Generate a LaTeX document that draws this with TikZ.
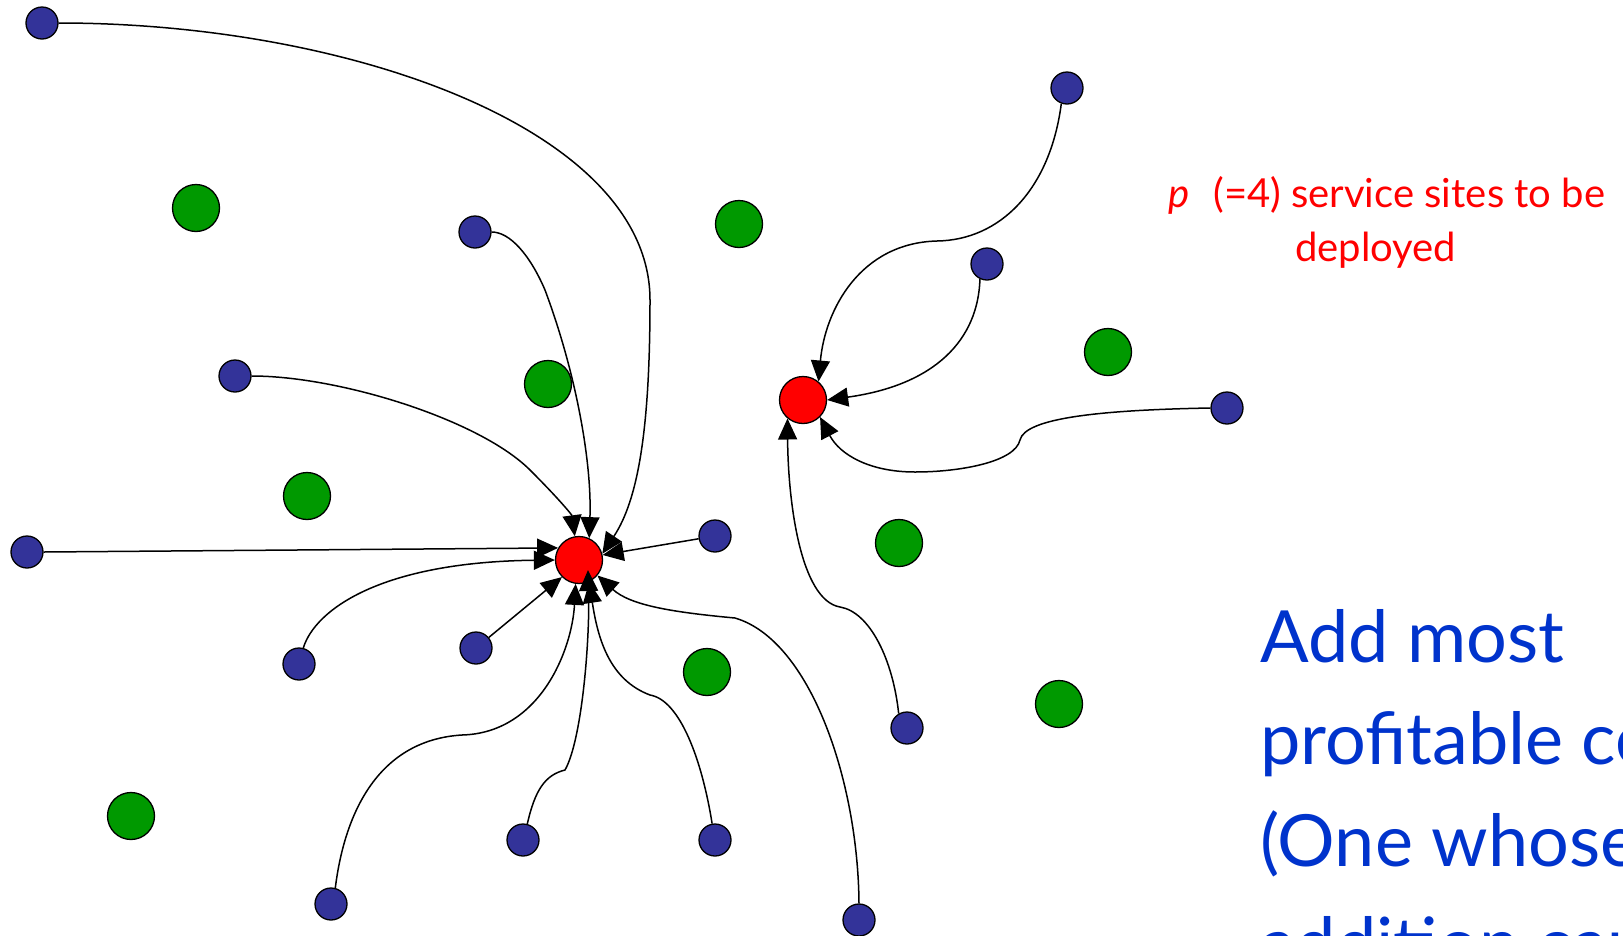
\documentclass[tikz,border=0pt]{standalone}
\usepackage{fontspec}
\setmainfont{Lato}
\usetikzlibrary{arrows.meta,calc}
\definecolor{cblue}{RGB}{51,51,153}
\definecolor{cgreen}{RGB}{0,153,0}
\definecolor{cred}{RGB}{255,0,0}
\definecolor{tblue}{RGB}{0,51,204}
\begin{document}
\begin{tikzpicture}[x=1pt,y=-1pt,
  client/.style={circle,draw=black,line width=1.3pt,fill=cblue,minimum size=32pt,inner sep=0pt},
  cand/.style={circle,draw=black,line width=1.3pt,fill=cgreen,minimum size=47pt,inner sep=0pt},
  site/.style={circle,draw=black,line width=1.3pt,fill=cred,minimum size=47pt,inner sep=0pt},
  arr/.style={draw=black,line width=1.5pt,-{Triangle[length=21pt,width=19pt]}},
  redtxt/.style={text=cred,font=\fontsize{40}{46}\selectfont,anchor=base west,inner sep=0pt},
  bluetxt/.style={text=tblue,font=\fontsize{72}{80}\selectfont,anchor=base west,inner sep=0pt}]
\useasboundingbox (0,0) rectangle (1623,935);
\clip (0,0) rectangle (1623,935);
% candidate sites (green)
\node[cand] (g1) at (196,208) {};
\node[cand] (g2) at (739,224) {};
\node[cand] (g3) at (548,384) {};
\node[cand] (g4) at (1108,352) {};
\node[cand] (g5) at (307,496) {};
\node[cand] (g6) at (899,543) {};
\node[cand] (g7) at (707,672) {};
\node[cand] (g8) at (1059,704) {};
\node[cand] (g9) at (131,816) {};
% chosen sites (red)
\node[site] (r1) at (579,560) {};
\node[site] (r2) at (803,400) {};
% clients (blue)
\node[client] (b1) at (42,23) {};
\node[client] (b2) at (1067,88) {};
\node[client] (b3) at (475,232) {};
\node[client] (b4) at (987,264) {};
\node[client] (b5) at (235,376) {};
\node[client] (b6) at (1227,408) {};
\node[client] (b7) at (27,552) {};
\node[client] (b8) at (715,536) {};
\node[client] (b9) at (299,664) {};
\node[client] (b10) at (476,648) {};
\node[client] (b11) at (907,728) {};
\node[client] (b12) at (523,840) {};
\node[client] (b13) at (715,840) {};
\node[client] (b14) at (331,904) {};
\node[client] (b15) at (859,920) {};
% connectors to r1
\draw[arr] (b1.east) .. controls (350,23) and (650,130) .. (650,300)
  .. controls (650,430) and (638,500) .. (r1.15);
\draw[arr] (b3.east) .. controls (510,232) and (530,255) .. (545,290)
  .. controls (575,370) and (592,460) .. (r1.65);
\draw[arr] (b5.east) .. controls (340,376) and (480,420) .. (530,470)
  .. controls (560,500) and (572,515) .. (r1.100);
\draw[arr] (b7.east) -- (r1.150);
\draw[arr] (b9.75) .. controls (315,610) and (380,562) .. (r1.180);
\draw[arr] (b10) -- (r1.225);
\draw[arr] (b8) -- (r1.12);
\draw[arr] (b14.75) .. controls (345,810) and (380,740) .. (462,735)
  .. controls (540,733) and (572,650) .. (r1.262);
\draw[arr] (b12.75) .. controls (535,790) and (545,775) .. (565,770)
  .. controls (582,740) and (590,640) .. ($(r1)+(9,10)$);
\draw[arr] (b13.100) .. controls (702,760) and (680,700) .. (650,695)
  .. controls (610,680) and (598,640) .. (r1.295);
\draw[arr] (b15.north) .. controls (858,780) and (810,640) .. (735,618)
  .. controls (670,612) and (630,605) .. (r1.320);
% connectors to r2
\draw[arr] (b2.250) .. controls (1050,190) and (1000,240) .. (937,241)
  .. controls (860,243) and (825,310) .. (r2.50);
\draw[arr] (b4.245) .. controls (978,340) and (935,385) .. (r2.0);
\draw[arr] (b6.west) .. controls (1100,410) and (1025,418) .. (1020,440)
  .. controls (1015,462) and (960,472) .. (915,472)
  .. controls (870,472) and (840,455) .. (r2.-45);
\draw[arr] (b11.120) .. controls (893,660) and (870,612) .. (840,607)
  .. controls (800,600) and (788,500) .. (r2.230);
% texts
\node[redtxt] (t1) at (1168,207) {\textit{p}\hspace{0.6em}(=4) service sites to be};
\node[redtxt] (t2) at (1295,261) {deployed};
\node[bluetxt] (t3) at (1260,662) {Add most};
\node[bluetxt] (t4) at (1260,764) {profitable center};
\node[bluetxt] (t5) at (1260,866) {(One whose};
\node[bluetxt] (t6) at (1260,969) {addition causes};
\end{tikzpicture}
\end{document}
